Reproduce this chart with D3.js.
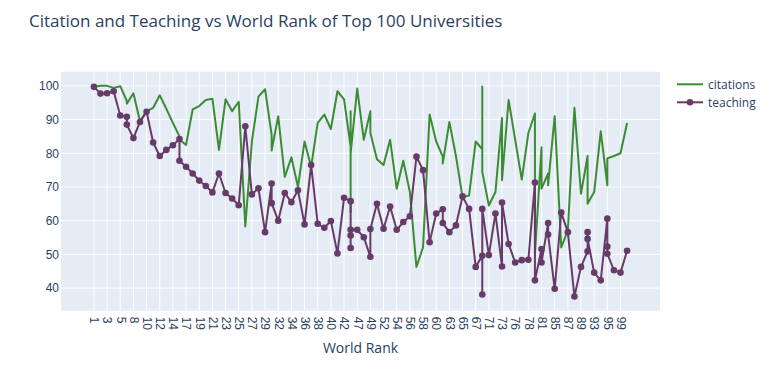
<!DOCTYPE html>
<html>
<head>
<meta charset="utf-8">
<script src="https://cdn.jsdelivr.net/npm/d3@7"></script>
<style>
  body { margin: 0; background: #fff; }
  svg { font-family: "Open Sans", verdana, arial, sans-serif; }
</style>
</head>
<body>
<div id="chart"></div>
<script>
// --- data (one entry per university, in rank order) ---
const ranks = [
  "1","2","3","4","5","6","6","8","9","10",
  "11","12","13","14","15","15","17","18","19","20",
  "21","22","23","24","25","26","27","28","29","30",
  "30","32","33","34","35","36","37","38","39","40",
  "41","42","43","43","43","43","47","48","49","49",
  "51","52","53","54","55","56","57","58","59","60",
  "61","61","63","64","65","66","67","68","68","68",
  "71","72","73","73","75","76","77","78","79","79",
  "81","81","83","83","85","86","87","88","89","90",
  "90","90","93","94","95","95","95","98","99","100"
];

const teaching = [
  99.7, 97.7, 97.8, 98.4, 91.2, 90.8, 88.5, 84.5, 89.3, 92.3,
  83.2, 79.2, 81.0, 82.4, 84.2, 77.8, 76.0, 74.0, 71.9, 70.3,
  68.4, 74.0, 68.2, 66.6, 64.6, 88.0, 67.8, 69.6, 56.6, 71.0,
  65.2, 60.0, 68.2, 65.5, 69.0, 58.9, 76.5, 59.1, 57.9, 59.9,
  50.3, 66.8, 65.8, 51.9, 55.6, 57.3, 57.3, 55.1, 49.3, 57.5,
  65.0, 57.6, 64.2, 57.3, 59.6, 61.3, 79.0, 75.0, 53.6, 62.1,
  63.4, 59.3, 56.6, 58.6, 67.2, 63.5, 46.3, 49.6, 38.1, 63.5,
  49.8, 62.1, 46.4, 65.4, 53.1, 47.6, 48.3, 48.4, 71.3, 42.3,
  51.6, 47.6, 59.3, 55.9, 39.8, 62.4, 56.6, 37.5, 46.3, 50.9,
  56.6, 54.6, 44.6, 42.3, 60.6, 52.3, 50.2, 45.3, 44.6, 51.1
];

const citations = [
  99.7, 100.0, 100.0, 99.4, 99.9, 95.5, 94.7, 97.8, 89.5, 92.5,
  93.5, 97.2, 93.2, 89.0, 85.0, 84.0, 82.5, 93.0, 94.0, 95.8,
  96.2, 81.0, 96.0, 92.5, 95.3, 58.3, 83.5, 96.8, 99.0, 85.5,
  80.8, 91.0, 73.0, 78.8, 70.0, 83.5, 76.0, 89.0, 91.5, 87.2,
  98.4, 96.0, 82.0, 92.5, 62.5, 80.0, 99.2, 84.0, 92.5, 86.0,
  78.2, 76.5, 84.0, 69.5, 77.8, 68.5, 46.3, 52.1, 91.5, 83.5,
  79.0, 77.0, 89.3, 79.2, 67.0, 67.5, 83.5, 81.2, 99.8, 74.5,
  64.5, 68.5, 90.5, 72.0, 95.8, 84.0, 72.2, 86.0, 91.8, 50.0,
  81.8, 69.5, 74.0, 70.5, 91.0, 52.1, 57.1, 93.5, 68.0, 79.2,
  73.0, 65.0, 68.5, 86.5, 70.5, 75.0, 78.5, 79.2, 80.0, 89.0
];

const yTicks = [40, 50, 60, 70, 80, 90, 100];

// --- layout ---
const W = 773, H = 374;
const plot = { left: 61, right: 660, top: 71.7, bottom: 310.7 };
const textColor = "#2a3f5f";
const citeColor = "#3c8c34";
const teachColor = "#673a67";

const categories = Array.from(new Set(ranks));

const svg = d3.select("#chart").append("svg")
  .attr("width", W)
  .attr("height", H);

const x = d3.scalePoint()
  .domain(categories)
  .range([plot.left, plot.right])
  .padding(5);

const y = d3.scaleLinear()
  .domain([33.3, 104.2])
  .range([plot.bottom, plot.top]);

// plot background
svg.append("rect")
  .attr("x", plot.left).attr("y", plot.top)
  .attr("width", plot.right - plot.left)
  .attr("height", plot.bottom - plot.top)
  .attr("fill", "#E5ECF6");

// grid lines
const labelled = categories.filter((d, i) => i % 2 === 0);

svg.append("g").selectAll("line")
  .data(labelled)
  .join("line")
  .attr("x1", d => x(d)).attr("x2", d => x(d))
  .attr("y1", plot.top).attr("y2", plot.bottom)
  .attr("stroke", "#fff").attr("stroke-width", 1);

svg.append("g").selectAll("line")
  .data(yTicks)
  .join("line")
  .attr("x1", plot.left).attr("x2", plot.right)
  .attr("y1", d => y(d)).attr("y2", d => y(d))
  .attr("stroke", "#fff").attr("stroke-width", 1);

// axes
const xAxis = svg.append("g")
  .attr("transform", `translate(0,${plot.bottom})`)
  .call(d3.axisBottom(x).tickValues(labelled).tickSize(0).tickPadding(0));
xAxis.select(".domain").remove();
xAxis.selectAll("text")
  .attr("fill", textColor)
  .style("font-size", "12px")
  .attr("transform", "rotate(90)")
  .attr("x", 6)
  .attr("y", 0)
  .attr("dy", "0.35em")
  .attr("text-anchor", "start");

const yAxis = svg.append("g")
  .attr("transform", `translate(${plot.left},0)`)
  .call(d3.axisLeft(y).tickValues(yTicks).tickSize(0).tickPadding(2));
yAxis.select(".domain").remove();
yAxis.selectAll("text")
  .attr("fill", textColor)
  .style("font-size", "12px");

// series
const line = d3.line()
  .x((d, i) => x(ranks[i]))
  .y(d => y(d));

svg.append("path")
  .datum(citations)
  .attr("d", line)
  .attr("fill", "none")
  .attr("stroke", citeColor)
  .attr("stroke-width", 2)
  .attr("stroke-linejoin", "round");

svg.append("path")
  .datum(teaching)
  .attr("d", line)
  .attr("fill", "none")
  .attr("stroke", teachColor)
  .attr("stroke-width", 2)
  .attr("stroke-linejoin", "round");

svg.append("g").selectAll("circle")
  .data(teaching)
  .join("circle")
  .attr("cx", (d, i) => x(ranks[i]))
  .attr("cy", d => y(d))
  .attr("r", 3.3)
  .attr("fill", teachColor);

// titles
svg.append("text")
  .attr("x", 29).attr("y", 27)
  .attr("fill", textColor)
  .style("font-size", "17px")
  .text("Citation and Teaching vs World Rank of Top 100 Universities");

svg.append("text")
  .attr("x", (plot.left + plot.right) / 2).attr("y", 353)
  .attr("text-anchor", "middle")
  .attr("fill", textColor)
  .style("font-size", "14px")
  .text("World Rank");

// legend
const legend = svg.append("g").attr("transform", "translate(677,0)");
const items = [
  { name: "citations", color: citeColor, marker: false, y: 84.3 },
  { name: "teaching", color: teachColor, marker: true, y: 102.3 }
];
items.forEach(it => {
  legend.append("line")
    .attr("x1", 0).attr("x2", 26)
    .attr("y1", it.y).attr("y2", it.y)
    .attr("stroke", it.color).attr("stroke-width", 2);
  if (it.marker) {
    legend.append("circle")
      .attr("cx", 13).attr("cy", it.y).attr("r", 3.3)
      .attr("fill", it.color);
  }
  legend.append("text")
    .attr("x", 31).attr("y", it.y)
    .attr("dy", "0.35em")
    .attr("fill", textColor)
    .style("font-size", "12px")
    .text(it.name);
});
</script>
</body>
</html>
